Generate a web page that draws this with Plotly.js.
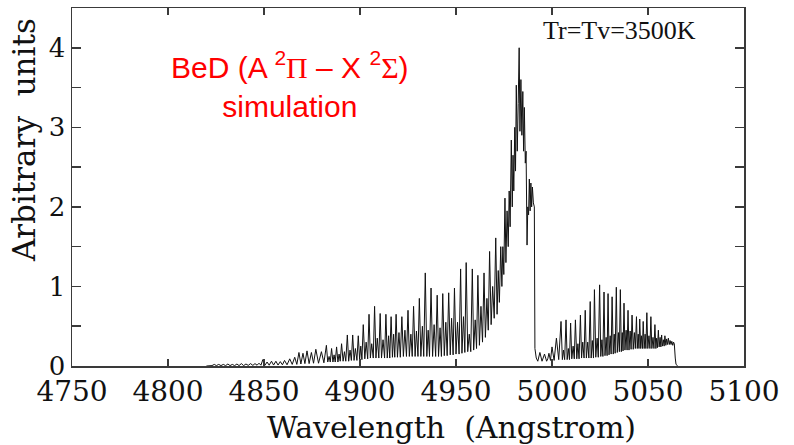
<!DOCTYPE html>
<html>
<head>
<meta charset="utf-8">
<script src="https://cdn.plot.ly/plotly-3.0.1.min.js"></script>
<style>html,body{margin:0;padding:0;background:#fff;}#chart{width:794px;height:445px;}</style>
</head>
<body>
<div id="chart"></div>
<script>
// Digitized BeD (A2Pi - X2Sigma) simulated spectrum.
// Wavelength in Angstrom, intensity in arbitrary units.
const tailWl = [4820, 4822, 4822.9, 4824.1, 4825.2, 4826.4, 4827.6, 4828.8, 4830.0, 4831.2,
  4832.3, 4833.5, 4834.7, 4835.9, 4837.0, 4838.2, 4839.4, 4840.6, 4841.8, 4843.0,
  4844.2, 4845.3, 4846.4, 4847.4, 4848.4, 4849.4, 4850.5, 4851.6, 4852.7, 4853.9,
  4855.0, 4856.2, 4857.3, 4858.5, 4859.6, 4860.7, 4862.0, 4863.4, 4864.7, 4866.0,
  4867.1, 4868.2, 4869.2, 4870.3, 4871.3, 4872.4, 4873.5, 4874.7, 4875.8, 4877.0,
  4878.4, 4879.9, 4881.2, 4882.5, 4883.2, 4883.9, 4884.5, 4885.2, 4885.9, 4886.5,
  4887.1, 4887.8, 4888.5, 4889.1, 4889.7, 4890.4, 4891.2, 4891.9, 4892.6, 4893.4,
  4894.1, 4894.8, 4895.5, 4896.2, 4896.9, 4897.6, 4898.4, 4899.1, 4899.8];
const tailInt = [0, 0, 0.005, 0.02, 0.005, 0.02, 0.005, 0.02, 0.005, 0.025,
  0.005, 0.02, 0.005, 0.025, 0.005, 0.03, 0.005, 0.025, 0.008, 0.03,
  0.008, 0.03, 0.01, 0.035, 0.01, 0.08, 0.01, 0.05, 0.01, 0.06,
  0.012, 0.06, 0.012, 0.055, 0.015, 0.07, 0.015, 0.09, 0.02, 0.11,
  0.02, 0.17, 0.025, 0.16, 0.03, 0.19, 0.03, 0.17, 0.035, 0.21,
  0.035, 0.18, 0.04, 0.26, 0.05, 0.12, 0.05, 0.22, 0.05, 0.14,
  0.05, 0.24, 0.05, 0.15, 0.06, 0.28, 0.06, 0.18, 0.06, 0.39,
  0.06, 0.2, 0.07, 0.39, 0.07, 0.22, 0.07, 0.38, 0.08];

const midWl = [4900.4, 4901.0, 4901.7, 4902.5, 4903.2, 4904.0, 4904.7, 4905.4, 4906.1, 4906.9,
  4907.6, 4908.3, 4909.0, 4909.8, 4910.5, 4911.2, 4912.0, 4912.8, 4913.5, 4914.2,
  4914.9, 4915.5, 4916.2, 4916.9, 4917.5, 4918.1, 4918.8, 4919.5, 4920.3, 4921.0,
  4921.8, 4922.6, 4923.4, 4924.2, 4925.0, 4925.7, 4926.5, 4927.2, 4927.9, 4928.7,
  4929.4, 4930.2, 4930.9, 4931.7, 4932.5, 4933.2, 4934.0, 4934.8, 4935.5, 4936.2,
  4937.0, 4937.8, 4938.6, 4939.4, 4940.2, 4940.9, 4941.7, 4942.4, 4943.1, 4943.9,
  4944.7, 4945.4, 4946.2, 4947.0, 4947.7, 4948.5, 4949.2, 4950.0, 4950.8, 4951.6,
  4952.4, 4953.1, 4953.9, 4954.6, 4955.3, 4956.1, 4956.9, 4957.7, 4958.5, 4959.2,
  4960.0, 4960.7, 4961.4, 4962.2, 4963.0, 4963.8, 4964.6, 4965.3, 4966.1, 4966.8,
  4967.5, 4968.3, 4969.1, 4969.9];
const midInt = [0.25, 0.08, 0.52, 0.09, 0.3, 0.09, 0.65, 0.1, 0.28, 0.1,
  0.75, 0.1, 0.35, 0.1, 0.66, 0.1, 0.33, 0.1, 0.65, 0.1,
  0.38, 0.1, 0.62, 0.11, 0.4, 0.11, 0.65, 0.11, 0.42, 0.11,
  0.62, 0.12, 0.45, 0.12, 0.70, 0.12, 0.4, 0.12, 0.75, 0.12,
  0.44, 0.12, 0.85, 0.12, 0.5, 0.12, 1.17, 0.12, 0.45, 0.12,
  0.98, 0.12, 0.52, 0.12, 0.89, 0.12, 0.48, 0.12, 0.91, 0.13,
  0.55, 0.13, 0.92, 0.14, 0.6, 0.14, 0.98, 0.15, 0.55, 0.15,
  1.22, 0.16, 0.62, 0.17, 1.30, 0.18, 0.4, 0.18, 1.22, 0.2,
  0.58, 0.22, 1.14, 0.26, 0.75, 0.3, 1.17, 0.36, 0.85, 0.45,
  1.44, 0.52, 1.0, 0.6];

const headWl = [4970.7, 4971.4, 4972.0, 4972.6, 4973.3, 4973.9, 4974.4, 4974.9, 4975.5, 4976.0,
  4976.6, 4977.2, 4977.7, 4978.2, 4978.8, 4979.3, 4979.7, 4980.1, 4980.6, 4981.0,
  4981.4, 4981.9, 4982.4, 4982.9, 4983.3, 4983.8, 4984.3, 4984.8, 4985.2, 4985.6,
  4986.1, 4986.5, 4987.0, 4987.4, 4987.8, 4988.2, 4988.6, 4989.0, 4989.4, 4989.8,
  4990.3, 4990.8, 4991.1];
const headInt = [1.61, 0.65, 1.2, 0.8, 1.50, 1.0, 1.5, 1.15, 2.11, 1.3,
  1.95, 1.5, 2.2, 1.75, 2.84, 2.0, 2.65, 2.2, 3.0, 2.45,
  3.53, 2.7, 3.3, 4.00, 2.95, 3.6, 2.9, 3.45, 2.7, 3.25,
  2.55, 2.7, 1.52, 2.0, 1.9, 2.35, 1.95, 2.3, 2.0, 2.25,
  2.05, 2.0, 0.22];

const secondWl = [4991.8, 4992.6, 4993.7, 4994.8, 4995.4, 4996.1, 4997.2, 4997.8, 4998.4, 4999.2,
  5000.0, 5001.1, 5002.3, 5003.5, 5004.7, 5005.4, 5006.0, 5006.6, 5007.3, 5007.9,
  5008.5, 5009.1, 5009.7, 5010.3, 5011.0, 5011.6, 5012.2, 5012.9, 5013.5, 5014.1,
  5014.8, 5015.4, 5016.0, 5016.7, 5017.3, 5017.9, 5018.6, 5019.2, 5019.9, 5020.4,
  5021.0, 5021.6, 5022.1, 5022.8, 5023.5, 5024.1, 5024.8, 5025.4, 5026.0, 5026.5,
  5027.1, 5027.6, 5028.2, 5028.7, 5029.2, 5029.7, 5030.3, 5030.8, 5031.3, 5031.9,
  5032.4, 5032.9, 5033.5, 5034.0, 5034.6, 5035.1, 5035.6, 5036.1, 5036.6, 5037.0,
  5037.5, 5038.0, 5038.6, 5039.1, 5039.6, 5040.1, 5040.7, 5041.2, 5041.7, 5042.3,
  5042.9, 5043.4, 5044.0, 5044.4, 5044.9, 5045.3, 5045.7, 5046.2, 5046.6, 5047.1,
  5047.5, 5048.0, 5048.5, 5048.9, 5049.4, 5049.9, 5050.5, 5051.0, 5051.5, 5052.0,
  5052.6, 5053.1, 5053.6, 5054.1, 5054.5, 5054.9, 5055.4, 5055.8, 5056.3, 5056.7,
  5057.1, 5057.5, 5058.0, 5058.4, 5058.8, 5059.3, 5059.7, 5060.2, 5060.6, 5061.1,
  5061.5, 5062.0, 5062.4, 5062.9, 5063.3, 5063.7, 5064.2, 5064.6, 5065.5];
const secondInt = [0.1, 0.06, 0.17, 0.06, 0.1, 0.15, 0.06, 0.09, 0.16, 0.07,
  0.24, 0.07, 0.35, 0.08, 0.56, 0.08, 0.2, 0.08, 0.58, 0.08,
  0.22, 0.08, 0.54, 0.09, 0.25, 0.09, 0.58, 0.09, 0.28, 0.09,
  0.64, 0.1, 0.3, 0.1, 0.70, 0.1, 0.3, 0.1, 0.81, 0.1,
  0.32, 0.1, 0.96, 0.11, 0.35, 0.11, 1.02, 0.12, 0.33, 0.12,
  0.93, 0.13, 0.36, 0.13, 0.91, 0.14, 0.38, 0.15, 0.87, 0.15,
  0.4, 0.16, 0.99, 0.17, 0.42, 0.18, 0.96, 0.18, 0.42, 0.19,
  0.79, 0.2, 0.45, 0.2, 0.70, 0.2, 0.44, 0.21, 0.64, 0.21,
  0.42, 0.22, 0.62, 0.22, 0.4, 0.22, 0.59, 0.22, 0.38, 0.22,
  0.56, 0.22, 0.4, 0.22, 0.67, 0.22, 0.38, 0.22, 0.62, 0.22,
  0.36, 0.22, 0.52, 0.22, 0.35, 0.23, 0.45, 0.24, 0.36, 0.24,
  0.39, 0.25, 0.33, 0.25, 0.38, 0.26, 0.34, 0.27, 0.35, 0.27,
  0.32, 0.27, 0.31, 0.26, 0.3, 0.28, 0.1, 0.02, 0];

const xTickVals = [4750, 4800, 4850, 4900, 4950, 5000, 5050, 5100];
const yTickVals = [0, 1, 2, 3, 4];

const wavelength = [].concat(tailWl, midWl, headWl, secondWl);
const intensity = [].concat(tailInt, midInt, headInt, secondInt);

const frame = '#3a3a3a';
const serif = 'DejaVu Serif, serif';

const trace = {
  x: wavelength, y: intensity, type: 'scatter', mode: 'lines',
  line: {color: '#111111', width: 1}, hoverinfo: 'skip', showlegend: false
};

const layout = {
  width: 794, height: 445,
  margin: {l: 72, r: 50, t: 8, b: 79, pad: 0},
  paper_bgcolor: '#ffffff', plot_bgcolor: '#ffffff',
  showlegend: false,
  xaxis: {
    range: [4750, 5100], tickmode: 'array', tickvals: xTickVals,
    ticks: 'inside', ticklen: 7, tickwidth: 1.5, tickcolor: frame,
    showline: true, linecolor: frame, linewidth: 1.5, mirror: 'ticks',
    showgrid: false, zeroline: false, automargin: false,
    tickfont: {family: serif, size: 28, color: '#111'}
  },
  yaxis: {
    range: [0, 4.5], tickmode: 'array', tickvals: yTickVals,
    ticks: 'inside', ticklen: 9, tickwidth: 1.5, tickcolor: frame,
    minor: {dtick: 0.5, tick0: 0, ticks: 'inside', ticklen: 9, tickwidth: 1.5, tickcolor: frame, showgrid: false},
    showline: true, linecolor: frame, linewidth: 1.5, mirror: 'ticks',
    showgrid: false, zeroline: false, automargin: false,
    tickfont: {family: serif, size: 26, color: '#111'}
  },
  annotations: [
    {xref: 'paper', yref: 'paper', x: 0.564, y: -0.173, xanchor: 'center', yanchor: 'middle',
     text: 'Wavelength  (Angstrom)', showarrow: false,
     font: {family: serif, size: 30, color: '#111'}},
    {xref: 'paper', yref: 'paper', x: -0.0714, y: 0.631, xanchor: 'center', yanchor: 'middle',
     text: 'Arbitrary  units', textangle: -90, showarrow: false,
     font: {family: serif, size: 31, color: '#111'}},
    {xref: 'paper', yref: 'paper', x: 0.324, y: 0.785, xanchor: 'center', yanchor: 'middle',
     text: 'BeD (A <sup>2</sup><span style="font-family:Liberation Serif">\u03A0</span> \u2013 X <sup>2</sup><span style="font-family:Liberation Serif">\u03A3</span>)<br>simulation',
     showarrow: false, align: 'center',
     font: {family: 'Liberation Sans, Arial, sans-serif', size: 30, color: '#ff0000'}},
    {xref: 'paper', yref: 'paper', x: 0.815, y: 0.936, xanchor: 'center', yanchor: 'middle',
     text: 'Tr=Tv=3500K', showarrow: false,
     font: {family: 'Liberation Serif, serif', size: 26, color: '#111'}}
  ]
};

Plotly.newPlot('chart', [trace], layout, {staticPlot: true, displayModeBar: false});
</script>
</body>
</html>
